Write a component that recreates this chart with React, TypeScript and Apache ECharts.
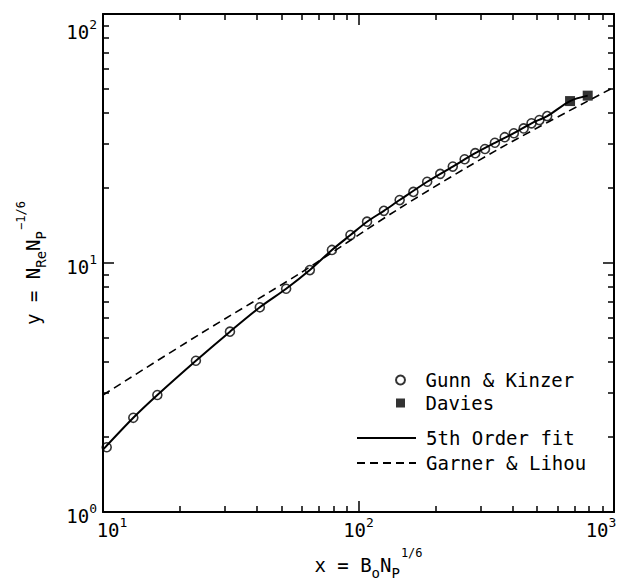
import React, { useEffect, useRef } from 'react';
import * as echarts from 'echarts';

// Gunn & Kinzer data (open circles)
const gunnKinzerX = [10.34, 13.14, 16.32, 23.1, 31.4, 41.1, 52.1, 64.5, 78.7, 93, 108, 125.7, 144.9, 164, 185.7, 208.9, 233.9, 260.3, 286.3, 312.6, 341.9, 373.5, 405.5, 443, 475.5, 510.5, 547.7];
const gunnKinzerY = [1.82, 2.39, 2.95, 4.05, 5.3, 6.64, 7.88, 9.37, 11.28, 12.95, 14.65, 16.2, 17.9, 19.3, 21.2, 22.8, 24.4, 26.1, 27.6, 28.7, 30.4, 32.0, 33.2, 34.7, 36.4, 37.5, 38.9];
// Davies data (filled squares)
const daviesX = [673, 789];
const daviesY = [44.7, 47.0];
// 5th order fit (solid line)
const fitX = [10, 13.14, 16.32, 23.1, 31.4, 41.1, 52.1, 64.5, 78.7, 93, 108, 125.7, 144.9, 185.7, 233.9, 286.3, 341.9, 405.5, 475.5, 547.7, 673, 789];
const fitY = [1.78, 2.39, 2.95, 4.05, 5.3, 6.64, 7.88, 9.37, 11.28, 12.95, 14.65, 16.2, 17.9, 21.2, 24.4, 27.6, 30.4, 33.2, 36.4, 38.9, 44.7, 47.0];
// Garner & Lihou (dashed line)
const garnerX = [10, 24, 59, 145, 358, 1000];
const garnerY = [2.95, 5.19, 9.09, 16.6, 28.9, 50.8];

// Tick values
const majorX = [10, 100, 1000];
const minorX = [20, 30, 40, 50, 60, 70, 80, 90, 200, 300, 400, 500, 600, 700, 800, 900];
const majorY = [1, 10, 100];
const minorY = [2, 3, 4, 5, 6, 7, 8, 9, 20, 30, 40, 50, 60, 70, 80, 90];

const FONT = '"DejaVu Sans Mono", monospace';
const INK = '#000';

const zip = (xs: number[], ys: number[]) => xs.map((x, i) => [x, ys[i]]);

const base = (pad: number[] = [4, 0, 0, 0]) => ({
  fontFamily: FONT, fontSize: 19, lineHeight: 20, color: INK, verticalAlign: 'top', padding: pad,
});
const sup = (pad: number[] = [0, 0, 0, 0]) => ({
  fontFamily: FONT, fontSize: 13, lineHeight: 13, color: INK, verticalAlign: 'top', padding: pad,
});
const titleRich = {
  m0: { fontFamily: FONT, fontSize: 19, lineHeight: 20, color: INK, verticalAlign: 'top', padding: [8, 0, 0, 20] },
  m: { fontFamily: FONT, fontSize: 19, lineHeight: 20, color: INK, verticalAlign: 'top', padding: [8, 0, 0, 0] },
  sub: { fontFamily: FONT, fontSize: 14, lineHeight: 14, color: INK, verticalAlign: 'top', padding: [19, 0, 0, 0] },
  sup: { fontFamily: FONT, fontSize: 12, lineHeight: 12, color: INK, verticalAlign: 'top', padding: [0, 0, 0, 1] },
};

function makeX(position: 'bottom' | 'top', ticks: number[], len: number, line: boolean, labels: boolean, name?: boolean): any {
  return {
    type: 'log', logBase: 10, min: 10, max: 1000, position, gridIndex: 0,
    axisLine: { show: line, onZero: false, lineStyle: { color: INK, width: 2 } },
    axisTick: { show: true, inside: true, length: len, customValues: ticks, lineStyle: { color: INK, width: 1.5 } },
    axisLabel: labels ? {
      show: true, margin: 4,
      formatter: (v: number) => {
        const e = Math.round(Math.log10(v));
        const k = e === 1 ? 'l' : e === 3 ? 'r' : 'c';
        return `{b${k}|10}{s${k}|${e}}`;
      },
      rich: {
        bc: base(), sc: sup(),
        bl: base([4, 0, 0, 18]), sl: sup(),
        br: base(), sr: sup([0, 26, 0, 0]),
      },
    } : { show: false },
    splitLine: { show: false },
    minorTick: { show: false },
    ...(name ? {
      name: '{m0|x = B}{sub|o}{m|N}{sub|P}{sup|1/6}',
      nameLocation: 'middle',
      nameGap: 35,
      nameTextStyle: { rich: titleRich },
    } : {}),
  };
}

function makeY(position: 'left' | 'right', ticks: number[], len: number, line: boolean, labels: boolean, name?: boolean): any {
  return {
    type: 'log', logBase: 10, min: 1, max: 100, position, gridIndex: 0,
    axisLine: { show: line, onZero: false, lineStyle: { color: INK, width: 2 } },
    axisTick: { show: true, inside: true, length: len, customValues: ticks, lineStyle: { color: INK, width: 1.5 } },
    axisLabel: labels ? {
      show: true, margin: 6,
      formatter: (v: number) => {
        const e = Math.round(Math.log10(v));
        return e === 2 ? `{bt|10}{st|${e}}` : `{b|10}{s|${e}}`;
      },
      rich: {
        b: base(), s: sup(),
        bt: base([18, 0, 0, 0]), st: sup([14, 0, 0, 0]),
      },
    } : { show: false },
    splitLine: { show: false },
    minorTick: { show: false },
    ...(name ? {
      name: '{m|y = N}{sub|Re}{m|N}{sub|P}{sup|−1/6}',
      nameLocation: 'middle',
      nameRotate: 90,
      nameGap: 68,
      nameTextStyle: { rich: titleRich },
    } : {}),
  };
}

export default function App() {
  const ref = useRef<HTMLDivElement>(null);
  useEffect(() => {
    if (!ref.current) return;
    const chart = echarts.init(ref.current, undefined, { renderer: 'svg' });
    const option: any = {
      animation: false,
      backgroundColor: '#fff',
      grid: { left: 103, right: 3, top: 14, bottom: 68, containLabel: false, outerBoundsMode: 'none' },
      xAxis: [
        makeX('bottom', majorX, 11, true, true, true),
        makeX('bottom', minorX, 6, false, false),
        makeX('top', majorX, 11, true, false),
        makeX('top', minorX, 6, false, false),
      ],
      yAxis: [
        makeY('left', majorY, 11, true, true, true),
        makeY('left', minorY, 6, false, false),
        makeY('right', majorY, 11, true, false),
        makeY('right', minorY, 6, false, false),
      ],
      legend: [
        {
          data: [
            { name: 'Gunn & Kinzer' },
            { name: 'Davies', icon: 'path://M0,0L10,0L10,10L0,10Z' },
          ],
          orient: 'vertical', left: 395, top: 370, padding: 0,
          itemWidth: 40, itemHeight: 9, itemGap: 3,
          symbolKeepAspect: true,
          selectedMode: false,
          textStyle: { fontFamily: FONT, fontSize: 19, lineHeight: 20, color: INK },
        },
        {
          data: [
            { name: '5th Order fit', itemStyle: { opacity: 0 } },
            { name: 'Garner & Lihou', itemStyle: { opacity: 0 } },
          ],
          orient: 'vertical', left: 356, top: 428, padding: 0,
          itemWidth: 59, itemHeight: 10, itemGap: 5,
          selectedMode: false,
          textStyle: { fontFamily: FONT, fontSize: 19, lineHeight: 20, color: INK, padding: [0, 0, 0, 5] },
        },
      ],
      series: [
        {
          name: 'Garner & Lihou', type: 'line', xAxisIndex: 0, yAxisIndex: 0,
          data: zip(garnerX, garnerY), symbol: 'none', smooth: 0.3,
          lineStyle: { color: INK, width: 1.6, type: [8, 5] },
          itemStyle: { color: INK },
        },
        {
          name: '5th Order fit', type: 'line', xAxisIndex: 0, yAxisIndex: 0,
          data: zip(fitX, fitY), symbol: 'none', smooth: 0.3,
          lineStyle: { color: INK, width: 2 },
          itemStyle: { color: INK },
        },
        {
          name: 'Gunn & Kinzer', type: 'scatter', xAxisIndex: 0, yAxisIndex: 0,
          data: zip(gunnKinzerX, gunnKinzerY), symbol: 'circle', symbolSize: 9,
          itemStyle: { color: 'rgba(255,255,255,0)', borderColor: INK, borderWidth: 1.6 },
          z: 5,
        },
        {
          name: 'Davies', type: 'scatter', xAxisIndex: 0, yAxisIndex: 0,
          data: zip(daviesX, daviesY), symbol: 'rect', symbolSize: 10,
          itemStyle: { color: INK },
          z: 5,
        },
      ],
    };
    chart.setOption(option);
    return () => chart.dispose();
  }, []);
  return <div ref={ref} style={{ position: 'fixed', left: 0, top: 0, width: 617, height: 580, background: '#fff' }} />;
}
